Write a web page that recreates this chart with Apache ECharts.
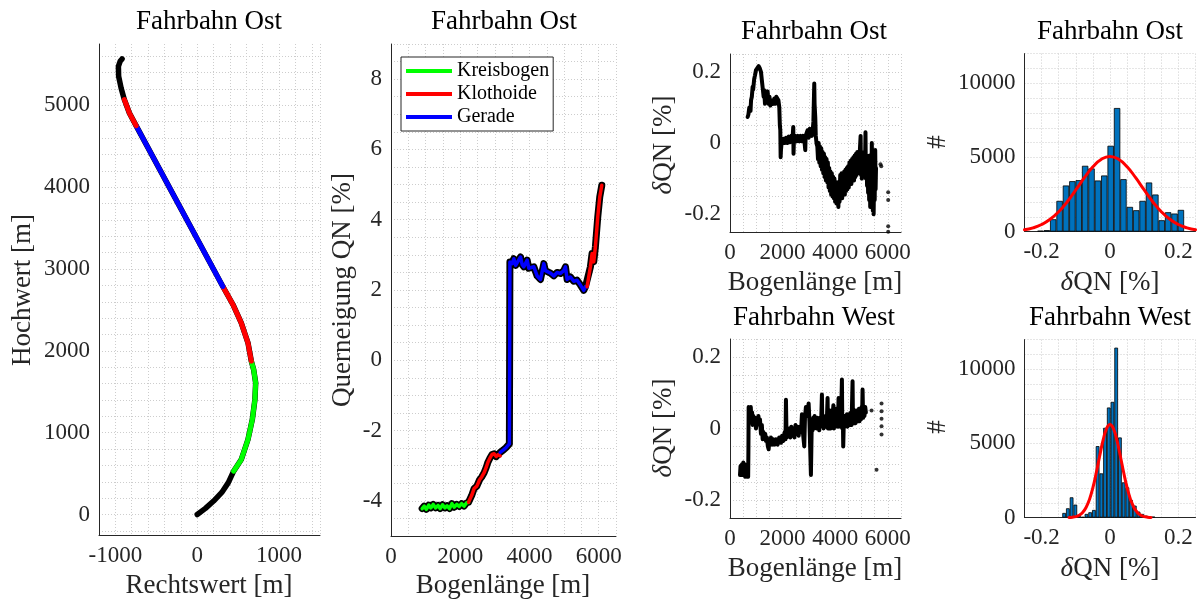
<!DOCTYPE html>
<html><head><meta charset="utf-8">
<script src="https://cdn.jsdelivr.net/npm/echarts@6/dist/echarts.min.js"></script>
<style>html,body{margin:0;padding:0;background:#fff}#c{width:1200px;height:601px}</style>
</head><body><div id="c"></div>
<script>
// ---------- Data ----------
// Plot 1: alignment (Rechtswert, Hochwert) in m
const p1Anfang   = [[0,0],[100,75],[200,165],[300,270],[380,390],[445,530]];
const p1Kreis    = [[445,530],[538,672],[620,917],[673,1161],[705,1406],[714,1610],[689,1773],[661,1875]];
const p1Kloth1   = [[661,1875],[620,2098],[538,2342],[436,2567],[313,2787]];
const p1Gerade   = [[313,2787],[-747,4752]];
const p1Kloth2   = [[-747,4752],[-829,4907],[-890,5070]];
const p1Ende     = [[-890,5070],[-930,5213],[-960,5355],[-963,5477],[-942,5538],[-918,5567]];

// Plot 2: Querneigung QN [%] vs Bogenlänge [m]
const qnKreisbogen = [[900,-4.22],[960,-4.15],[1020,-4.24],[1090,-4.12],[1150,-4.2],[1220,-4.1],[1290,-4.2],[1360,-4.13],[1420,-4.22],[1490,-4.11],[1560,-4.2],[1620,-4.14],[1690,-4.22],[1760,-4.08],[1830,-4.18],[1900,-4.1],[1970,-4.16],[2040,-4.08],[2110,-4.15],[2180,-4.06],[2240,-4.04]];
const qnKlothoide1 = [[2240,-4.04],[2330,-3.85],[2400,-3.65],[2480,-3.58],[2560,-3.4],[2620,-3.32],[2690,-3.2],[2750,-3.05],[2800,-2.9],[2860,-2.78],[2920,-2.68],[2980,-2.66],[3040,-2.74],[3100,-2.68],[3154,-2.72]];
const qnGerade     = [[3154,-2.62],[3250,-2.55],[3330,-2.48],[3420,-2.38],[3435,2.8],[3500,2.75],[3549,2.89],[3600,2.7],[3645,2.68],[3742,2.94],[3790,2.72],[3838,2.66],[3934,2.85],[3980,2.62],[4030,2.58],[4126,2.66],[4222,2.4],[4318,2.3],[4415,2.75],[4460,2.55],[4511,2.55],[4607,2.48],[4703,2.4],[4799,2.5],[4895,2.47],[4991,2.55],[5040,2.66],[5088,2.3],[5184,2.37],[5280,2.25],[5376,2.28],[5473,2.14],[5569,1.99],[5620,2.1],[5665,2.09]];
const qnKlothoide2 = [[5665,2.09],[5761,2.66],[5809,3.04],[5857,2.8],[5905,3.23],[5973,4.08],[6031,4.65],[6090,4.98]];

// Plot 3/4: deltaQN [%] vs Bogenlänge [m]
const dqOst = [[670,0.073],[700,0.08],[734,0.1],[780,0.09],[800,0.12],[830,0.13],[861,0.158],[880,0.15],[920,0.18],[950,0.19],[987,0.205],[1030,0.21],[1089,0.216],[1130,0.21],[1177,0.2],[1220,0.17],[1250,0.15],[1279,0.13],[1300,0.148],[1330,0.11],[1367,0.13],[1400,0.12],[1430,0.145],[1469,0.11],[1500,0.13],[1530,0.105],[1557,0.12],[1600,0.125],[1640,0.11],[1684,0.125],[1720,0.11],[1760,0.13],[1810,0.134],[1840,0.12],[1874,0.1],[1895,0.05],[1912,0.036],[1925,-0.04],[1937,-0.02],[1960,0.0],[2000,-0.002],[2040,0.012],[2080,0.0],[2127,0.015],[2180,0.0],[2230,0.018],[2280,0.002],[2330,0.02],[2370,0.005],[2405,0.045],[2415,-0.03],[2430,0.01],[2480,0.02],[2530,0.005],[2580,0.02],[2633,0.005],[2680,0.02],[2720,0.005],[2780,0.02],[2830,0.005],[2861,-0.02],[2875,0.02],[2910,0.025],[2950,0.036],[2990,0.015],[3030,0.04],[3076,0.045],[3110,0.02],[3140,0.03],[3170,0.06],[3203,0.167],[3215,0.11],[3241,0.073],[3260,0.02],[3292,-0.002],[3320,-0.01],[3345,-0.045],[3370,0.0],[3395,-0.055],[3420,-0.01],[3445,-0.065],[3470,-0.015],[3495,-0.075],[3520,-0.025],[3545,-0.085],[3570,-0.03],[3595,-0.095],[3620,-0.04],[3645,-0.105],[3670,-0.045],[3695,-0.11],[3720,-0.055],[3745,-0.125],[3770,-0.07],[3795,-0.135],[3820,-0.08],[3845,-0.145],[3870,-0.085],[3895,-0.15],[3920,-0.095],[3945,-0.155],[3970,-0.1],[3995,-0.165],[4020,-0.11],[4045,-0.17],[4070,-0.11],[4095,-0.16],[4120,-0.18],[4140,-0.11],[4165,-0.165],[4190,-0.09],[4215,-0.155],[4240,-0.085],[4265,-0.155],[4290,-0.09],[4315,-0.145],[4340,-0.08],[4365,-0.145],[4390,-0.075],[4415,-0.135],[4440,-0.07],[4465,-0.13],[4490,-0.065],[4515,-0.125],[4540,-0.055],[4565,-0.115],[4590,-0.05],[4615,-0.115],[4640,-0.045],[4665,-0.105],[4690,-0.04],[4715,-0.105],[4740,-0.035],[4765,-0.095],[4790,-0.03],[4815,-0.09],[4840,-0.025],[4865,-0.085],[4890,-0.025],[4915,-0.075],[4940,-0.015],[4965,0.02],[4980,-0.09],[5000,-0.045],[5013,-0.1],[5040,-0.035],[5070,-0.085],[5100,-0.025],[5130,-0.075],[5150,0.03],[5165,-0.1],[5190,-0.035],[5210,-0.12],[5230,-0.045],[5250,-0.14],[5270,-0.055],[5290,-0.16],[5310,-0.035],[5330,-0.18],[5350,-0.07],[5370,-0.17],[5390,0.0],[5410,-0.1],[5430,-0.19],[5450,-0.05],[5460,-0.2],[5480,-0.08],[5500,-0.16],[5520,-0.02],[5535,-0.13],[5550,-0.07]];
const dqOstPunkte = [[5720,-0.06],[5750,-0.065],[6013,-0.138],[6013,-0.16],[6013,-0.234],[6013,-0.249]];
const dqWest = [[380,-0.13],[400,-0.105],[420,-0.125],[456,-0.1],[480,-0.13],[506,-0.095],[530,-0.125],[557,-0.1],[580,-0.135],[608,-0.115],[640,-0.135],[671,-0.12],[690,-0.135],[700,-0.06],[709,0.06],[735,0.065],[760,0.045],[790,0.06],[810,0.03],[840,0.045],[861,0.01],[890,0.035],[924,0.02],[950,0.03],[987,0.0],[1020,0.025],[1051,0.015],[1080,0.035],[1114,0.01],[1140,0.025],[1177,-0.015],[1210,0.01],[1241,-0.03],[1270,-0.01],[1304,-0.025],[1340,-0.015],[1367,-0.035],[1400,-0.025],[1440,-0.05],[1469,-0.058],[1500,-0.03],[1530,-0.045],[1557,-0.025],[1600,-0.045],[1640,-0.03],[1684,-0.045],[1740,-0.03],[1810,-0.045],[1870,-0.025],[1937,-0.04],[1980,-0.02],[2026,-0.035],[2080,-0.01],[2110,-0.03],[2127,0.08],[2150,-0.025],[2180,0.0],[2210,-0.02],[2253,0.0],[2290,-0.025],[2330,0.005],[2370,-0.02],[2410,0.0],[2450,-0.025],[2490,0.01],[2530,-0.015],[2570,0.005],[2610,-0.02],[2650,0.005],[2700,-0.01],[2735,0.04],[2770,-0.01],[2823,-0.05],[2850,0.03],[2886,0.06],[2940,0.035],[2988,0.07],[3020,0.02],[3050,-0.06],[3076,-0.13],[3100,-0.02],[3114,0.02],[3140,-0.005],[3165,0.03],[3190,0.0],[3215,0.035],[3240,0.005],[3266,0.03],[3290,0.0],[3315,0.03],[3340,0.0],[3365,0.025],[3393,-0.005],[3420,0.03],[3445,0.005],[3470,0.03],[3494,0.095],[3510,0.005],[3535,0.03],[3560,0.0],[3585,0.03],[3610,0.005],[3635,0.035],[3660,0.005],[3685,0.03],[3709,0.085],[3725,0.0],[3750,0.035],[3773,0.0],[3800,0.05],[3825,0.0],[3850,0.04],[3875,0.005],[3899,0.035],[3930,0.065],[3950,0.0],[3975,0.04],[4000,0.005],[4026,0.055],[4050,0.01],[4075,0.04],[4100,0.005],[4127,0.085],[4150,0.01],[4175,0.04],[4200,0.005],[4225,0.035],[4254,0.137],[4270,0.0],[4290,0.03],[4304,-0.05],[4320,0.0],[4345,0.035],[4370,0.005],[4395,0.035],[4420,0.01],[4445,0.04],[4469,0.005],[4495,0.04],[4520,0.01],[4545,0.04],[4570,0.01],[4596,0.045],[4620,0.01],[4659,0.132],[4675,0.015],[4700,0.045],[4725,0.015],[4750,0.05],[4775,0.015],[4800,0.05],[4825,0.02],[4850,0.05],[4875,0.02],[4900,0.055],[4925,0.02],[4950,0.055],[4975,0.025],[5000,0.06],[5020,0.03],[5039,0.109],[5060,0.03],[5085,0.06],[5110,0.035],[5140,0.06],[5165,0.045]];
const dqWestPunkte = [[5380,0.05],[5570,-0.115],[5760,0.07],[5760,0.048],[5760,0.027],[5760,0.0065],[5760,-0.017]];

// Plot 5/6: histograms of deltaQN [%]
const histOstMitte  = [-0.2034,-0.1847,-0.1660,-0.1474,-0.1287,-0.1100,-0.0914,-0.0727,-0.0540,-0.0354,-0.0167,0.0020,0.0207,0.0393,0.0580,0.0767,0.0953,0.1140,0.1327,0.1513,0.1700,0.1887,0.2073];
const histOstAnzahl = [60,100,833,2072,3108,3400,3468,4436,4256,3445,3783,5788,8332,3535,1666,1441,2072,3310,2500,766,1306,1216,1464];
const histWestMitte  = [-0.1341,-0.1232,-0.1123,-0.1014,-0.0906,-0.0797,-0.0688,-0.0580,-0.0471,-0.0362,-0.0254,-0.0145,-0.0036,0.0073,0.0181,0.0290,0.0399,0.0507,0.0616,0.0725,0.0834,0.0942,0.1051,0.1160,0.1268];
const histWestAnzahl = [314,628,1368,874,112,45,247,359,516,4820,2982,6053,7421,7802,11457,5403,2376,2040,1188,807,404,247,135,90,67];
const fitOstX = [-0.25,-0.225,-0.2,-0.175,-0.15,-0.125,-0.1,-0.075,-0.05,-0.025,0,0.025,0.05,0.075,0.1,0.125,0.15,0.175,0.2,0.225,0.25];
const fitOstY = [126,254,477,830,1341,2013,2806,3634,4370,4882,5066,4882,4370,3634,2806,2013,1341,830,477,254,126];
const fitWestX = [-0.12,-0.11,-0.1,-0.09,-0.08,-0.07,-0.06,-0.05,-0.04,-0.03,-0.02,-0.01,0,0.01,0.02,0.03,0.04,0.05,0.06,0.07,0.08,0.09,0.1,0.11,0.12];
const fitWestY = [9,26,67,159,345,680,1226,2020,3038,4174,5236,6000,6278,6000,5236,4174,3038,2020,1226,680,345,159,67,26,9];

// ---------- Chart ----------
const FONT = '"Liberation Serif","Times New Roman",serif';
const TXT = '#262626';
const GRIDC = '#cdcdcd';
const GREEN = '#00ff00', RED = '#ff0000', BLUE = '#0000ff', HISTC = '#0072bd';

function isMult(v, m) { const k = Math.round(v / m); return Math.abs(v - k * m) < 1e-7; }
function fmtEvery(m, dec) {
  return function (v) {
    if (!isMult(v, m)) return '';
    const k = Math.round(v / m) * m;
    if (Math.abs(k) < 1e-12) return '0';
    return dec ? k.toFixed(dec) : String(Math.round(k));
  };
}
function axis(gridIndex, min, max, interval, fmt, gridColors) {
  return {
    type: 'value', gridIndex, min, max, interval,
    axisLine: { show: true, onZero: false, lineStyle: { color: TXT, width: 1 } },
    axisTick: { show: false },
    splitLine: { show: true, showMinLine: true, showMaxLine: true,
      lineStyle: { color: gridColors || GRIDC, type: [1, 2], width: 1 } },
    axisLabel: { fontFamily: FONT, fontSize: 23, color: TXT, margin: 9, formatter: fmt,
      showMinLabel: true, showMaxLabel: true },
  };
}
const T = 'rgba(0,0,0,0)';

const xAxis = [
  axis(0, -1200, 1500, 200, fmtEvery(1000, 0)),
  axis(1, 0, 6500, 500, fmtEvery(2000, 0)),
  axis(2, 0, 6500, 500, fmtEvery(2000, 0)),
  axis(3, 0, 6500, 500, fmtEvery(2000, 0)),
  axis(4, -0.25, 0.25, 0.05, fmtEvery(0.2, 1)),
  axis(5, -0.25, 0.25, 0.05, fmtEvery(0.2, 1)),
];
const yAxis = [
  axis(0, -250, 5750, 50, fmtEvery(1000, 0), [T, GRIDC, T, T]),
  axis(1, -5, 9, 0.5, fmtEvery(2, 0)),
  axis(2, -0.25, 0.25, 0.05, fmtEvery(0.2, 1)),
  axis(3, -0.25, 0.25, 0.05, fmtEvery(0.2, 1)),
  axis(4, 0, 12000, 1000, fmtEvery(5000, 0)),
  axis(5, 0, 12000, 1000, fmtEvery(5000, 0)),
];

function line(name, idx, data, color, width, z) {
  return { name, type: 'line', xAxisIndex: idx, yAxisIndex: idx, data, symbol: 'none', showSymbol: false,
    lineStyle: { color, width, cap: 'round', join: 'round' }, itemStyle: { color }, z: z || 2, animation: false };
}
const p1All = [].concat(p1Anfang, p1Kreis, p1Kloth1, p1Gerade, p1Kloth2, p1Ende);
const qnAll = [].concat(qnKreisbogen, qnKlothoide1, qnGerade, qnKlothoide2);

const series = [
  line('p1-alle', 0, p1All, '#000', 5.5, 2),
  line('p1-kreis', 0, p1Kreis, GREEN, 5, 3),
  line('p1-kloth1', 0, p1Kloth1, RED, 5, 3),
  line('p1-gerade', 0, p1Gerade, BLUE, 5, 3),
  line('p1-kloth2', 0, p1Kloth2, RED, 5, 3),
  line('p2-mess', 1, qnAll, '#000', 7, 2),
  line('Kreisbogen', 1, qnKreisbogen, GREEN, 3.5, 3),
  line('Klothoide', 1, qnKlothoide1, RED, 3.5, 3),
  line('Gerade', 1, qnGerade, BLUE, 3.5, 3),
  line('Klothoide', 1, qnKlothoide2, RED, 3.5, 3),
  line('dq-ost', 2, dqOst, '#000', 4, 2),
  { name: 'dq-ost-p', type: 'scatter', xAxisIndex: 2, yAxisIndex: 2, data: dqOstPunkte, symbolSize: 4, itemStyle: { color: '#000' }, animation: false },
  line('dq-west', 3, dqWest, '#000', 4, 2),
  { name: 'dq-west-p', type: 'scatter', xAxisIndex: 3, yAxisIndex: 3, data: dqWestPunkte, symbolSize: 4, itemStyle: { color: '#000' }, animation: false },
  { name: 'h-ost', type: 'bar', xAxisIndex: 4, yAxisIndex: 4, data: histOstMitte.map((c, i) => [c, histOstAnzahl[i]]),
    barWidth: 6.4, itemStyle: { color: HISTC, borderColor: '#000', borderWidth: 0.8 }, animation: false },
  Object.assign(line('fit-ost', 4, fitOstX.map((x, i) => [x, fitOstY[i]]), RED, 3, 5), { smooth: true }),
  { name: 'h-west', type: 'bar', xAxisIndex: 5, yAxisIndex: 5, data: histWestMitte.map((c, i) => [c, histWestAnzahl[i]]),
    barWidth: 3.7, itemStyle: { color: HISTC, borderColor: '#000', borderWidth: 0.8 }, animation: false },
  Object.assign(line('fit-west', 5, fitWestX.map((x, i) => [x, fitWestY[i]]), RED, 3, 5), { smooth: true }),
];

function txt(x, y, text, size, rot, color, rich) {
  const st = { text, x: 0, y: 0, fontFamily: FONT, fontSize: size, fill: color || TXT,
    align: 'center', verticalAlign: 'middle', textAlign: 'center', textVerticalAlign: 'middle' };
  if (rich) st.rich = rich;
  return { type: 'text', x, y, rotation: rot ? Math.PI / 2 : 0, style: st, z: 100 };
}
const dRich = { i: { fontFamily: FONT, fontSize: 27, fontStyle: 'italic', fill: TXT } };
const graphic = [
  txt(209, 22, 'Fahrbahn Ost', 27, false, '#000'),
  txt(504, 22, 'Fahrbahn Ost', 27, false, '#000'),
  txt(814, 32, 'Fahrbahn Ost', 27, false, '#000'),
  txt(814, 318, 'Fahrbahn West', 27, false, '#000'),
  txt(1110, 32, 'Fahrbahn Ost', 27, false, '#000'),
  txt(1110, 318, 'Fahrbahn West', 27, false, '#000'),
  txt(209, 586, 'Rechtswert [m]', 27),
  txt(23, 290, 'Hochwert [m]', 27, true),
  txt(503, 586, 'Bogenlänge [m]', 27),
  txt(343, 290, 'Querneigung QN [%]', 27, true),
  txt(815, 283, 'Bogenlänge [m]', 27),
  txt(664, 145, '{i|δ}QN [%]', 27, true, TXT, dRich),
  txt(815, 569, 'Bogenlänge [m]', 27),
  txt(664, 428, '{i|δ}QN [%]', 27, true, TXT, dRich),
  txt(1110, 283, '{i|δ}QN [%]', 27, false, TXT, dRich),
  txt(938, 142, '#', 27, true),
  txt(1110, 569, '{i|δ}QN [%]', 27, false, TXT, dRich),
  txt(938, 427, '#', 27, true),
];

const chart = echarts.init(document.getElementById('c'), null, { renderer: 'canvas' });
chart.setOption({
  animation: false,
  backgroundColor: '#fff',
  grid: [
    { left: 99, top: 44, width: 221, height: 491 },
    { left: 391, top: 44, width: 225, height: 492 },
    { left: 730, top: 54, width: 171, height: 178 },
    { left: 730, top: 339, width: 171, height: 179 },
    { left: 1024.5, top: 53.6, width: 171, height: 178 },
    { left: 1024.5, top: 339.6, width: 171, height: 178 },
  ],
  xAxis, yAxis, series, graphic,
  legend: {
    data: ['Kreisbogen', 'Klothoide', 'Gerade'], orient: 'vertical', left: 401, top: 57,
    icon: 'rect', padding: [4, 4, 4, 5], itemGap: 3, itemWidth: 46, itemHeight: 4, selectedMode: false,
    borderColor: TXT, borderWidth: 1, backgroundColor: '#fff',
    textStyle: { fontFamily: FONT, fontSize: 20, color: '#000', lineHeight: 20 },
  },
});
</script></body></html>
